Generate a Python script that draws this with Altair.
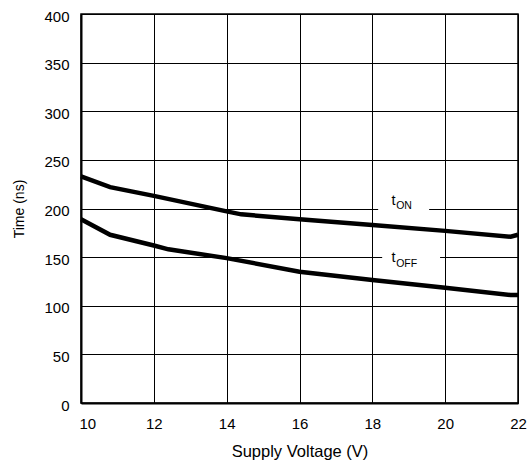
import altair as alt
import pandas as pd

# Supply voltage sweep (V) and switching times (ns)
v_on = [10, 10.8, 12, 14, 14.4, 16, 18, 20, 21.8, 22]
t_on = [233, 222, 213, 197, 194, 189, 183, 177, 171, 173]

v_off = [10, 10.8, 12, 12.4, 14, 16, 18, 20, 21.8, 22]
t_off = [189, 173, 162, 158, 149, 135, 126.5, 118.5, 111, 111]

series_names = ["ON", "OFF"]

FONT = "Liberation Sans"

lines = pd.concat([
    pd.DataFrame({"v": v_on, "t": t_on, "s": "ON"}),
    pd.DataFrame({"v": v_off, "t": t_off, "s": "OFF"}),
])

x_scale = alt.Scale(domain=[10, 22], nice=False, zero=False)
y_scale = alt.Scale(domain=[0, 400], nice=False)

x_axis = alt.Axis(
    title="Supply Voltage (V)", values=list(range(10, 23, 2)), ticks=False,
    labelPadding=13, titlePadding=12, titleFontSize=16.5, labelFlush=False,
    labelAlign={"expr": "datum.value == 10 ? 'left' : 'center'"},
    labelOffset={"expr": "datum.value == 10 ? -2 : 0"},
)
y_axis = alt.Axis(
    title="Time (ns)", values=list(range(0, 401, 50)), ticks=False,
    labelPadding=12, titlePadding=17, titleFontSize=14, labelOffset=2,
)

curves = alt.Chart(lines).mark_line(color="black", strokeWidth=4.5).encode(
    x=alt.X("v:Q", scale=x_scale, axis=x_axis),
    y=alt.Y("t:Q", scale=y_scale, axis=y_axis),
    detail="s:N",
)

# White patches that break the gridlines behind the curve labels
boxes = pd.DataFrame({
    "x1": [18.16, 18.27], "x2": [19.56, 19.86],
    "y1": [193, 143], "y2": [207, 157],
})
patches = alt.Chart(boxes).mark_rect(color="white").encode(
    x=alt.X("x1:Q", scale=x_scale), x2="x2:Q",
    y=alt.Y("y1:Q", scale=y_scale), y2="y2:Q",
)

lab = pd.DataFrame({
    "x": [18.64, 18.64], "y": [200, 150],
    "sub": series_names, "main": ["t", "t"],
})
lab_on = lab.iloc[[0]]
lab_off = lab.iloc[[1]]

def label_layer(df, dy_main, dy_sub):
    base = alt.Chart(df).encode(
        x=alt.X("x:Q", scale=x_scale), y=alt.Y("y:Q", scale=y_scale)
    )
    t = base.mark_text(align="right", baseline="alphabetic", fontSize=14.5,
                       font=FONT, dy=dy_main, color="black").encode(text="main:N")
    s = base.mark_text(align="left", baseline="alphabetic", fontSize=10.5,
                       font=FONT, dy=dy_sub, dx=0.5, color="black").encode(text="sub:N")
    return t + s

chart = alt.layer(
    patches, curves,
    label_layer(lab_on, -4, 0.5),
    label_layer(lab_off, 4.5, 9.5),
).properties(
    width=437, height=389,
    background="white",
    autosize=alt.AutoSizeParams(type="none"),
    padding={"left": 81, "top": 14, "right": 12, "bottom": 63},
).configure_view(
    stroke="black", strokeWidth=1.5,
).configure_axis(
    grid=True, gridColor="black", gridWidth=1, gridOpacity=1,
    domainColor="black", domainWidth=2,
    labelFont=FONT, labelFontSize=15, labelColor="black",
    titleFont=FONT, titleFontSize=15, titleFontWeight="normal", titleColor="black",
)

chart.save("out.html", embed_options={"renderer": "svg", "actions": False})
